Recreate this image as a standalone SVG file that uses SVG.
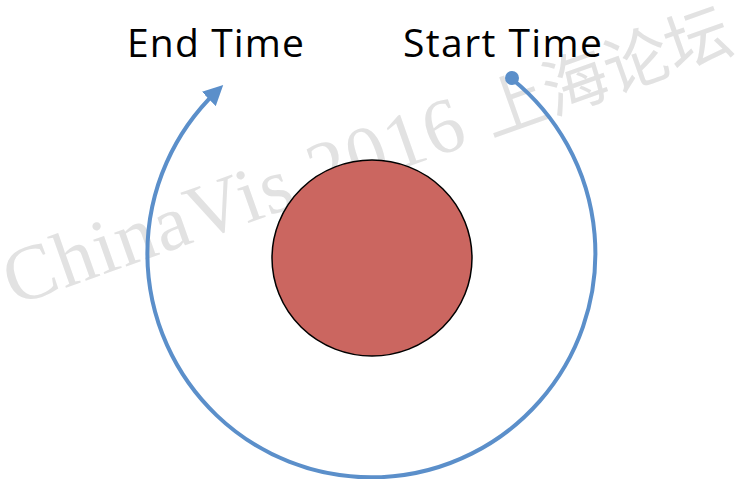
<svg xmlns="http://www.w3.org/2000/svg" width="742" height="479" viewBox="0 0 742 479">
<style>
.lbl{font-family:"Open Sans","Liberation Sans",sans-serif;font-size:39px;fill:#000}
.wm{font-family:"Liberation Serif","Noto Sans CJK SC",serif;font-size:65px;fill:#e2e2e2}
.conn{fill:none;stroke:#5b8fca;stroke-width:4}
</style>
<defs>
<marker id="arr" viewBox="0 0 10 10" refX="5" refY="5" markerWidth="5" markerHeight="5" orient="auto" markerUnits="strokeWidth">
<path d="M0,0 L10,5 L0,10 z" fill="#5b8fca"/>
</marker>
</defs>
<rect width="742" height="479" fill="#fff"/>
<text class="wm" transform="translate(14,306) rotate(-19.5)"><tspan font-size="78" letter-spacing="1.5">ChinaVis 2016 </tspan><tspan>上海论坛</tspan></text>
<g id="center">
<ellipse cx="372" cy="258" rx="100" ry="98" fill="#cb6660" stroke="#000" stroke-width="1.5"/>
</g>
<g id="connectors">
<path class="conn" d="M512 79 A224 224 0 1 1 216 92" marker-end="url(#arr)"/>
<circle cx="512" cy="78" r="7" fill="#5b8fca"/>
</g>
<g id="end-label"><text class="lbl" x="127" y="57" textLength="177">End Time</text></g>
<g id="start-label"><text class="lbl" x="403" y="57" textLength="199">Start Time</text></g>
</svg>
